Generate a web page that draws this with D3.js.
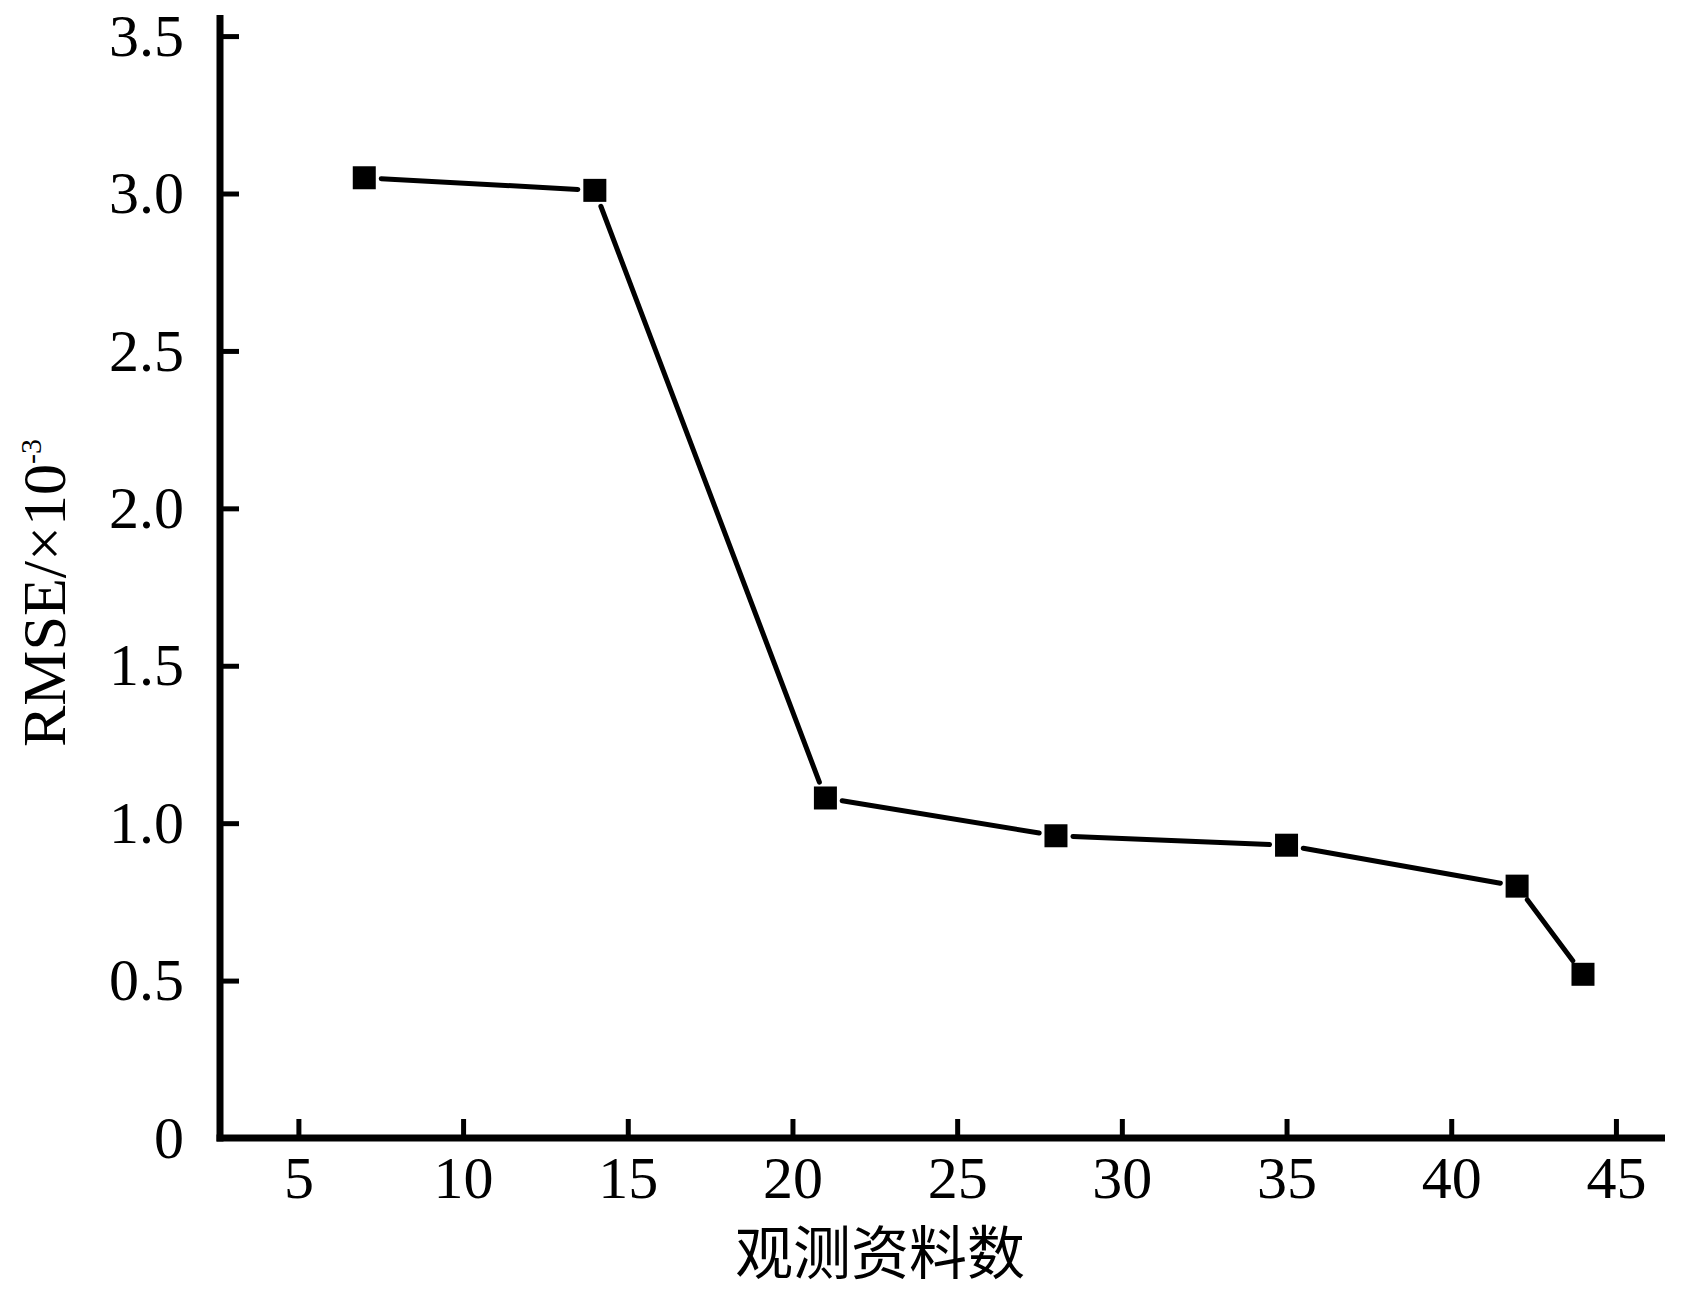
<!DOCTYPE html>
<html>
<head>
<meta charset="utf-8">
<script src="https://cdn.jsdelivr.net/npm/d3@7"></script>
<style>
  html, body { margin: 0; padding: 0; background: #fff; }
  svg { display: block; }
</style>
</head>
<body>
<script>
// ---- data ----
const obsCounts = [7, 14, 21, 28, 35, 42, 44];
const rmseValues = [3.05, 3.01, 1.08, 0.96, 0.93, 0.80, 0.52];
const xTickValues = [5, 10, 15, 20, 25, 30, 35, 40, 45];
const yTickValues = [0, 0.5, 1.0, 1.5, 2.0, 2.5, 3.0, 3.5];
const xTitle = "观测资料数";
const yTitleMain = "RMSE/×10";
const yTitleSup = "-3";

// ---- layout ----
const W = 1695, H = 1293;
const svg = d3.select("body").append("svg").attr("width", W).attr("height", H);

const x = d3.scaleLinear().domain([2.62, 46.49]).range([220, 1665]);
const y = d3.scaleLinear().domain([0, 3.567]).range([1138, 15]);

const serif = "'Liberation Serif', 'Times New Roman', serif";

// x axis
const gx = svg.append("g").attr("transform", `translate(0,${y(0)})`)
  .call(d3.axisBottom(x).tickValues(xTickValues).tickSizeInner(-19).tickSizeOuter(0).tickFormat(d3.format("d")));
gx.select(".domain").attr("stroke", "#000").attr("stroke-width", 7)
  .attr("d", `M${x.range()[0] - 3.5},0H${x.range()[1]}`);
gx.selectAll(".tick line").attr("stroke", "#000").attr("stroke-width", 5);
gx.selectAll(".tick text").attr("y", 60).attr("dy", null)
  .attr("font-family", serif).attr("font-size", 60).attr("fill", "#000");

// y axis
const gy = svg.append("g").attr("transform", `translate(${x.range()[0]},0)`)
  .call(d3.axisLeft(y).tickValues(yTickValues).tickSizeInner(-19).tickSizeOuter(0).tickPadding(36)
    .tickFormat(d => d === 0 ? "0" : d3.format(".1f")(d)));
gy.select(".domain").attr("stroke", "#000").attr("stroke-width", 7)
  .attr("d", `M0,${y.range()[0] + 3.5}V${y.range()[1]}`);
gy.selectAll(".tick line").attr("stroke", "#000").attr("stroke-width", 5);
gy.selectAll(".tick text").attr("font-family", serif).attr("font-size", 60).attr("fill", "#000");

// connecting segments with gaps near markers
const gap = 17;
const pts = obsCounts.map((c, i) => [x(c), y(rmseValues[i])]);
const segs = d3.pairs(pts).map(([a, b]) => {
  const dx = b[0] - a[0], dy = b[1] - a[1];
  const len = Math.hypot(dx, dy);
  const ux = dx / len, uy = dy / len;
  return [[a[0] + ux * gap, a[1] + uy * gap], [b[0] - ux * gap, b[1] - uy * gap]];
});
svg.append("g").selectAll("line").data(segs).join("line")
  .attr("x1", d => d[0][0]).attr("y1", d => d[0][1])
  .attr("x2", d => d[1][0]).attr("y2", d => d[1][1])
  .attr("stroke", "#000").attr("stroke-width", 5).attr("stroke-linecap", "round");

// markers
const ms = 23;
svg.append("g").selectAll("rect").data(obsCounts).join("rect")
  .attr("x", (d) => x(d) - ms / 2)
  .attr("y", (d, i) => y(rmseValues[i]) - ms / 2)
  .attr("width", ms).attr("height", ms).attr("fill", "#000");

// x title
svg.append("text")
  .attr("x", 880).attr("y", 1274)
  .attr("text-anchor", "middle")
  .attr("font-family", "'Noto Sans CJK SC', sans-serif").attr("font-size", 58).attr("fill", "#000")
  .text(xTitle);

// y title
const yt = svg.append("text")
  .attr("transform", "translate(65,593) rotate(-90)")
  .attr("text-anchor", "middle")
  .attr("font-family", serif).attr("font-size", 62).attr("fill", "#000");
yt.append("tspan").text(yTitleMain);
yt.append("tspan").attr("font-size", 30).attr("dy", -24).text(yTitleSup);
</script>
</body>
</html>
